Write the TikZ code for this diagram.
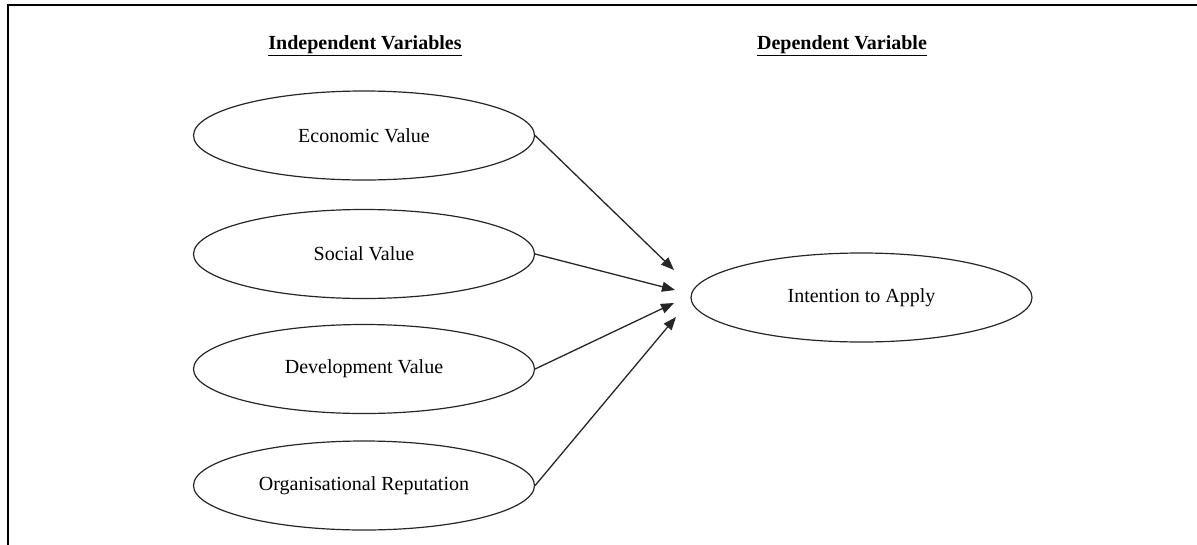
\documentclass[tikz,border=0pt]{standalone}
\usepackage{fontspec}
\setmainfont{Liberation Serif}
\usetikzlibrary{arrows.meta,shapes.geometric}
\begin{document}
\begin{tikzpicture}[x=1pt,y=-1pt,
  var/.style={draw=black!85, line width=1.2pt, ellipse, minimum width=341pt, minimum height=89pt, inner sep=0pt, font=\fontsize{20}{24}\selectfont},
  head/.style={font=\fontsize{20}{24}\selectfont\bfseries, inner sep=0pt},
  link/.style={draw=black!85, line width=1.3pt, -{Triangle[length=13pt,width=10pt]}}]
\useasboundingbox (0,0) rectangle (1197,544);
\draw[line width=2pt] (8,560) -- (8,5) -- (1210,5);
\node[head] (hi) at (365,46) {\underline{Independent Variables}};
\node[head] (hd) at (842,46) {\underline{Dependent Variable}};
\node[var] (eco) at (364,135.5) {Economic Value};
\node[var] (soc) at (364,254) {Social Value};
\node[var] (dev) at (364,369) {Development Value};
\node[var] (org) at (364,485.5) {Organisational Reputation};
\node[var] (ita) at (861.5,297.5) {Intention to Apply};
\coordinate (t1) at (674,270);
\coordinate (t2) at (675,290);
\coordinate (t3) at (674,303);
\coordinate (t4) at (676,317);
\draw[link] (eco.east) -- (t1);
\draw[link] (soc.east) -- (t2);
\draw[link] (dev.east) -- (t3);
\draw[link] (org.east) -- (t4);
\end{tikzpicture}
\end{document}
